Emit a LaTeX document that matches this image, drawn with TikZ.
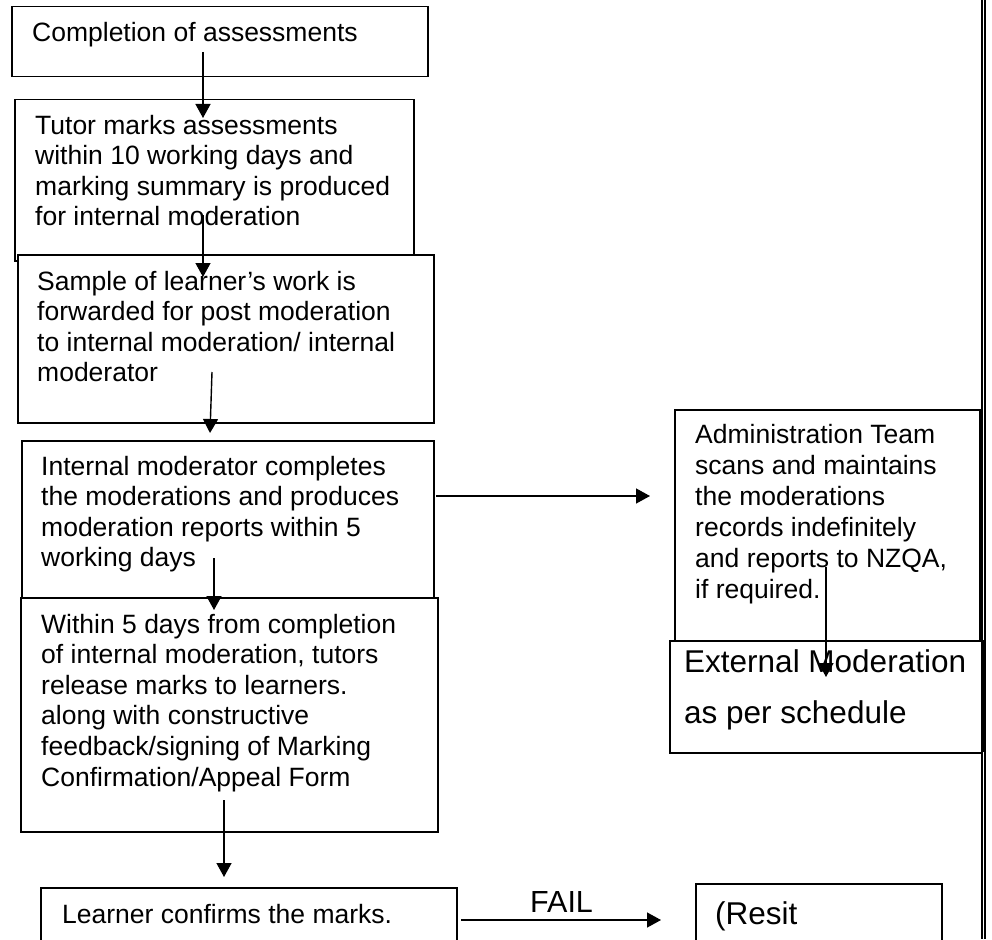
\documentclass[tikz,border=0pt]{standalone}
\usepackage{fontspec}
\setmainfont{Liberation Sans}
\usetikzlibrary{arrows.meta}
\begin{document}
\begin{tikzpicture}[x=1pt,y=-1pt,
  box/.style={draw, line width=1.5pt, fill=white, anchor=north west, inner sep=0pt},
  txt/.style={anchor=base west, inner sep=0pt, align=left, font=\fontsize{26.5}{30.6}\selectfont},
  bigtxt/.style={anchor=base west, inner sep=0pt, align=left, font=\fontsize{31.5}{51}\selectfont},
  arr/.style={line width=1.4pt, -{Triangle[length=14pt,width=15pt]}}]
\useasboundingbox (0,0) rectangle (992,939);
\fill[white] (0,0) rectangle (992,939);
% left column (multi-line text nodes are placed by the baseline of their last line)
\node[box, minimum width=416pt, minimum height=70pt] (b1) at (11,6) {};
\node[txt] (t1) at (32,42) {Completion of assessments};
\node[box, minimum width=399pt, minimum height=161pt] (b2) at (14,99) {};
\node[txt] (t2) at (35,225.8) {Tutor marks assessments\\within 10 working days and\\marking summary is produced\\for internal moderation};
\node[box, minimum width=416pt, minimum height=168pt] (b3) at (17,254) {};
\node[txt] (t3) at (37,381.8) {Sample of learner’s work is\\forwarded for post moderation\\to internal moderation/ internal\\moderator};
\node[box, minimum width=412pt, minimum height=157pt] (b4) at (21,440) {};
\node[txt] (t4) at (41,566.8) {Internal moderator completes\\the moderations and produces\\moderation reports within 5\\working days};
\node[box, minimum width=417pt, minimum height=234pt] (b5) at (20,597) {};
\node[txt] (t5) at (41,786) {Within 5 days from completion\\of internal moderation, tutors\\release marks to learners.\\along with constructive\\feedback/signing of Marking\\Confirmation/Appeal Form};
\node[box, minimum width=416pt, minimum height=90pt] (b6) at (40,887) {};
\node[txt] (t6) at (62,923) {Learner confirms the marks.};
% right column
\node[box, minimum width=305pt, minimum height=233pt] (adm) at (674,409) {};
\node[txt, font=\fontsize{26.5}{31}\selectfont] (tadm) at (695,598) {Administration Team\\scans and maintains\\the moderations\\records indefinitely\\and reports to NZQA,\\if required.};
\node[box, minimum width=312pt, minimum height=112pt] (ext) at (669,640) {};
\node[bigtxt] (text) at (684,723) {External Moderation\\as per schedule};
\node[box, minimum width=246pt, minimum height=90pt] (resit) at (695,883) {};
\node[bigtxt] (tresit) at (715,924) {(Resit};
\node[bigtxt, font=\fontsize{30.5}{36}\selectfont] (fail) at (530,912) {FAIL};
% connector end points
\coordinate (a1s) at (203,52);  \coordinate (a1e) at (203,118);
\coordinate (a2s) at (203,215); \coordinate (a2e) at (203,277);
\coordinate (a3s) at (212,372); \coordinate (a3e) at (210,433);
\coordinate (a4s) at (214,558); \coordinate (a4e) at (214,610);
\coordinate (a5s) at (224,800); \coordinate (a5e) at (224,877);
\coordinate (a6s) at (436,496); \coordinate (a6e) at (650,496);
\coordinate (a7s) at (826,567); \coordinate (a7e) at (826,677);
\coordinate (a8s) at (461,920); \coordinate (a8e) at (661,920);
\draw[arr] (a1s) -- (a1e);
\draw[arr] (a2s) -- (a2e);
\draw[arr] (a3s) -- (a3e);
\draw[arr] (a4s) -- (a4e);
\draw[arr] (a5s) -- (a5e);
\draw[arr] (a6s) -- (a6e);
\draw[arr] (a7s) -- (a7e);
\draw[arr] (a8s) -- (a8e);
% page border double rule
\draw[line width=2.2pt] (982.1,0) -- (982.1,939);
\draw[line width=1.8pt] (985.2,0) -- (985.2,939);
\fill (981,640) rectangle (986,752);
\end{tikzpicture}
\end{document}
